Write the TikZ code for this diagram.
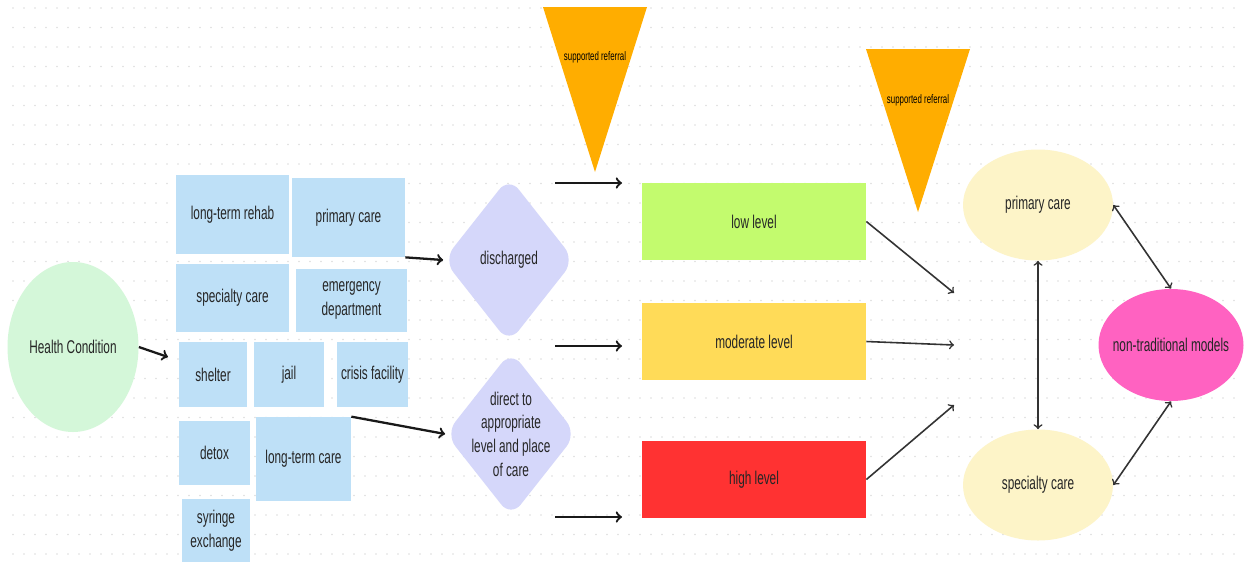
\documentclass[tikz,border=0pt]{standalone}
\usepackage{fontspec}
\setmainfont{Liberation Sans}[FakeStretch=0.64]
\usetikzlibrary{shapes.geometric,arrows}
\pgfdeclarelayer{background}
\pgfsetlayers{background,main}
\def\pxu{0.02cm}
\definecolor{conditiongreen}{HTML}{D4F7D9}
\definecolor{settingblue}{HTML}{BEE0F7}
\definecolor{decisionblue}{HTML}{D5D7FA}
\definecolor{referralorange}{HTML}{FFAD00}
\definecolor{lowgreen}{HTML}{C3FB6E}
\definecolor{moderateyellow}{HTML}{FFDB58}
\definecolor{highred}{HTML}{FF3232}
\definecolor{careyellow}{HTML}{FDF4C8}
\definecolor{modelpink}{HTML}{FF62C1}
\tikzstyle{every node}=[text=black!85, font=\fontsize{10.5}{13.5}\selectfont]
\tikzstyle{condition} = [ellipse, fill=conditiongreen, inner sep=0pt,
  minimum width=131*\pxu, minimum height=170*\pxu]
\tikzstyle{setting} = [fill=settingblue, align=center, inner sep=0pt]
\tikzstyle{decision} = [diamond, fill=decisionblue, rounded corners=9pt,
  inner sep=0pt, minimum width=131*\pxu, minimum height=166*\pxu]
\tikzstyle{level} = [inner sep=0pt, minimum width=224*\pxu, minimum height=77*\pxu]
\tikzstyle{care} = [ellipse, fill=careyellow, inner sep=0pt,
  minimum width=150*\pxu, minimum height=111*\pxu]
\tikzstyle{model} = [ellipse, fill=modelpink, inner sep=0pt,
  minimum width=145*\pxu, minimum height=112*\pxu]
\tikzstyle{referral} = [fill=referralorange]
\tikzstyle{small} = [font=\fontsize{7}{8}\selectfont, text=black]
\tikzstyle{dot} = [fill=black!13]
\tikzstyle{line} = [draw, line width=1.3pt, color=black!90, ->, >=to]
\tikzstyle{link} = [draw, line width=0.9pt, color=black!80, ->, >=to]
\tikzstyle{both} = [draw, line width=0.9pt, color=black!80, <->, >=to]
\newcommand{\setting}[4]{node (#1) [setting, minimum width=#2*\pxu,
  minimum height=#3*\pxu] {#4}}
\newcommand{\decision}[2]{node (#1) [decision,
  label={[align=center]center:#2}] {}}
\newcommand{\referral}[5]{%
  % Orange triangle pointing down
  \fill[referral] (#1,#2) -- (#3,#2) -- ({(#1+#3)/2},#4) -- cycle;
  \path ({(#1+#3)/2},#5) node (#1ref) [small] {supported referral};}

\begin{document}
\begin{tikzpicture}[x=0.02cm, y=-0.02cm]
\useasboundingbox (0,0) rectangle (1244,562);
% Dotted canvas
\begin{pgfonlayer}{background}
  \fill[white] (0,0) rectangle (1244,562);
  \foreach \x in {13,24,...,1244}
    \foreach \y in {8,27.5,...,562}
      \fill[dot] (\x,\y) circle (0.45pt);
\end{pgfonlayer}

% Draw diagram elements
\path (73,347) node (hc) [condition] {Health Condition};

\path (232.5,214.5) \setting{rehab}{113}{79}{long-term rehab};
\path (348.5,217.5) \setting{prim}{113}{79}{primary care};
\path (232.5,298)   \setting{spec}{113}{68}{specialty care};
\path (351.5,300.5) \setting{emerg}{111}{63}{emergency\\department};
\path (213,374.5)   \setting{shelter}{68}{65}{shelter};
\path (289,374.5)   \setting{jail}{70}{65}{jail};
\path (372.5,374.5) \setting{crisis}{71}{65}{crisis facility};
\path (214.5,453)   \setting{detox}{71}{64}{detox};
\path (303.5,459)   \setting{ltcare}{95}{84}{long-term care};
\path (216,530.5)   \setting{syringe}{68}{63}{syringe\\exchange};

\path (509,260) \decision{dis}{discharged};
\path (511,434) \decision{direct}{direct to\\appropriate\\level and place\\of care};

\referral{543}{7}{647}{172}{57}
\referral{866}{49}{970}{212}{100}

\path (754,221.5) node (low) [level, fill=lowgreen] {low level};
\path (754,341.5) node (moderate) [level, fill=moderateyellow] {moderate level};
\path (754,479.5) node (high) [level, fill=highred] {high level};

\path (1038,205) node (pc) [care] {primary care};
\path (1038,485) node (sc) [care] {specialty care};
\path (1171,345) node (ntm) [model, label=center:non-traditional models] {};

% Free ends of the arrows
\coordinate (hcend) at (168,357);
\coordinate (in1s) at (555,183);
\coordinate (in1e) at (622,183);
\coordinate (in2s) at (555,346);
\coordinate (in2e) at (622,346);
\coordinate (in3s) at (555,517);
\coordinate (in3e) at (622,517);
\coordinate (out1) at (954,293);
\coordinate (out2) at (954,345);
\coordinate (out3) at (954,405);

% Draw arrows between elements
\path [line] (hc.east) -- (hcend);
\path [line] (prim.south east) -- (dis.west);
\path [line] (ltcare.north east) -- (direct.west);
\path [line] (in1s) -- (in1e);
\path [line] (in2s) -- (in2e);
\path [line] (in3s) -- (in3e);

\path [link] (low.east) -- (out1);
\path [link] (moderate.east) -- (out2);
\path [link] (high.east) -- (out3);

\path [both] (pc.south) -- (sc.north);
\path [both] (pc.east) -- (ntm.north);
\path [both] (sc.east) -- (ntm.south);
\end{tikzpicture}
\end{document}
